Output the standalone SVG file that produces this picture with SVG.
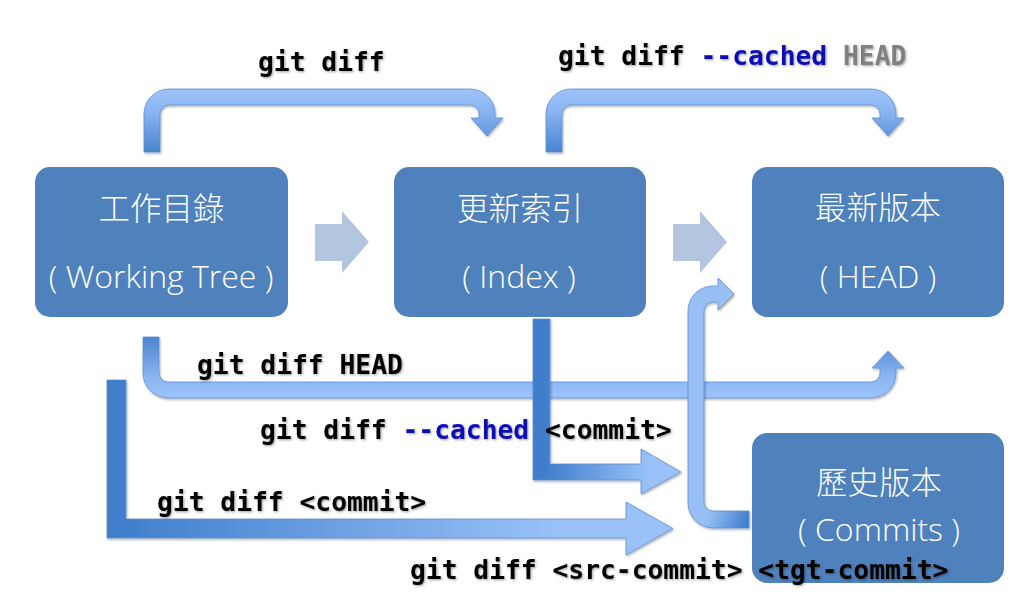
<svg xmlns="http://www.w3.org/2000/svg" width="1026" height="600" viewBox="0 0 1026 600">
<style>
.box{fill:#4F81BD}
.t-cjk{font-family:"Noto Sans CJK TC","Noto Sans CJK SC",sans-serif;font-weight:300;font-size:31.5px;fill:#FFFFFF;text-anchor:middle}
.t-en{font-family:"Open Sans","Noto Sans",sans-serif;font-weight:300;font-size:32px;fill:#FFFFFF;text-anchor:middle}
.cmd{font-family:"DejaVu Sans Mono","Liberation Mono",monospace;font-weight:bold;font-size:26.3px;fill:#000000;filter:url(#tshadow)}
.opt{fill:#0C0CB4}
.gray{fill:#808080}
.chev{fill:#B4C5E0}
.arr{stroke:#5E8ED2;stroke-width:0.8;filter:url(#ashadow)}
</style>
<defs>
<filter id="tshadow" x="-5%" y="-30%" width="110%" height="160%">
<feDropShadow dx="1.2" dy="1.2" stdDeviation="1" flood-color="#000000" flood-opacity="0.35"/>
</filter>
<filter id="ashadow" x="-5%" y="-10%" width="110%" height="120%">
<feDropShadow dx="1" dy="1.5" stdDeviation="1.2" flood-color="#000000" flood-opacity="0.3"/>
</filter>
<linearGradient id="gA" gradientUnits="userSpaceOnUse" x1="0" y1="89" x2="0" y2="152">
<stop offset="0" stop-color="#9DC4FA"/><stop offset="0.35" stop-color="#8AB5F2"/><stop offset="1" stop-color="#4A84D0"/>
</linearGradient>
<linearGradient id="gC" gradientUnits="userSpaceOnUse" x1="0" y1="337" x2="0" y2="398">
<stop offset="0" stop-color="#4A84D0"/><stop offset="0.65" stop-color="#8AB5F2"/><stop offset="1" stop-color="#9DC4FA"/>
</linearGradient>
<linearGradient id="gD" gradientUnits="userSpaceOnUse" x1="545" y1="0" x2="650" y2="0">
<stop offset="0" stop-color="#3F7ECC"/><stop offset="1" stop-color="#9AC2F9"/>
</linearGradient>
<linearGradient id="gE" gradientUnits="userSpaceOnUse" x1="115" y1="0" x2="560" y2="0">
<stop offset="0" stop-color="#3F7ECC"/><stop offset="1" stop-color="#9AC2F9"/>
</linearGradient>
<linearGradient id="gF" gradientUnits="userSpaceOnUse" x1="712" y1="505" x2="749" y2="520">
<stop offset="0" stop-color="#98C0F7"/><stop offset="1" stop-color="#3F7ECC"/>
</linearGradient>
</defs>
<rect width="1026" height="600" fill="#FFFFFF"/>

<g id="node-working-tree">
<rect class="box" x="35" y="167" width="253" height="150" rx="15"/>
<text class="t-cjk" x="161.5" y="220">工作目錄</text>
<text class="t-en" x="161" y="288">( Working Tree )</text>
</g>
<g id="node-index">
<rect class="box" x="394" y="167" width="252" height="150" rx="15"/>
<text class="t-cjk" x="520" y="220">更新索引</text>
<text class="t-en" x="519" y="288">( Index )</text>
</g>
<g id="node-head">
<rect class="box" x="752" y="167" width="252" height="150" rx="15"/>
<text class="t-cjk" x="878" y="219">最新版本</text>
<text class="t-en" x="878" y="288">( HEAD )</text>
</g>
<g id="node-commits">
<rect class="box" x="752" y="433" width="252" height="150" rx="15"/>
<text class="t-cjk" x="879" y="494">歷史版本</text>
<text class="t-en" x="879" y="541">( Commits )</text>
</g>

<g id="connectors">
<polygon class="chev" points="315,224 342,224 342,211 369,242 342,273 342,261 315,261"/>
<polygon class="chev" points="673,224 700,224 700,211 727,242 700,273 700,261 673,261"/>
<path class="arr" fill="url(#gA)" d="M144,152 L144,114 A25,25 0 0 1 169,89 L470,89 A25,25 0 0 1 495,114 L495,118 L503,118 L487,136 L471,118 L479,118 L479,114 A9,9 0 0 0 470,105 L169,105 A9,9 0 0 0 160,114 L160,152 Z"/>
<path class="arr" fill="url(#gA)" d="M546,152 L546,114 A25,25 0 0 1 571,89 L871,89 A25,25 0 0 1 896,114 L896,118 L904,118 L888,136 L872,118 L880,118 L880,114 A9,9 0 0 0 871,105 L571,105 A9,9 0 0 0 562,114 L562,152 Z"/>
<path class="arr" fill="url(#gC)" d="M143,337 L143,373 A25,25 0 0 0 168,398 L871,398 A25,25 0 0 0 896,373 L896,368 L904,368 L888,351 L872,368 L880,368 L880,373 A9,9 0 0 1 871,382 L168,382 A9,9 0 0 1 159,373 L159,337 Z"/>
<path class="arr" fill="url(#gD)" d="M533,319 L550,319 L550,464 L641,464 L641,449 L681,472 L641,494 L641,480 L533,480 Z"/>
<path class="arr" fill="url(#gE)" d="M107,380 L126,380 L126,519 L626,519 L626,502 L673,528.5 L626,555 L626,538 L107,538 Z"/>
<path class="arr" fill="url(#gF)" d="M749,511 L713,511 A9,9 0 0 1 704,502 L704,311 A9,9 0 0 1 713,302 L718,302 L718,310 L734,294 L718,278 L718,286 L713,286 A25,25 0 0 0 688,311 L688,503 A25,25 0 0 0 713,528 L749,528 Z"/>
</g>

<g id="labels">
<text class="cmd" x="258" y="71">git diff</text>
<text class="cmd" x="558" y="65">git diff <tspan class="opt">--cached</tspan> <tspan class="gray">HEAD</tspan></text>
<text class="cmd" x="197" y="374">git diff HEAD</text>
<text class="cmd" x="260" y="439">git diff <tspan class="opt">--cached</tspan> &lt;commit&gt;</text>
<text class="cmd" x="157" y="511">git diff &lt;commit&gt;</text>
<text class="cmd" x="410" y="579">git diff &lt;src-commit&gt; &lt;tgt-commit&gt;</text>
</g>
</svg>
